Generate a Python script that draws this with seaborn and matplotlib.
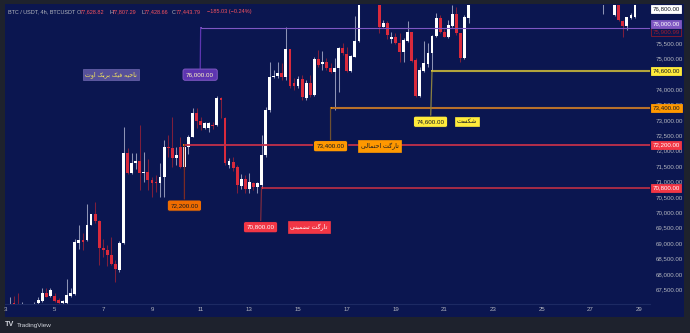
import matplotlib
matplotlib.use("Agg")
import matplotlib.pyplot as plt
import matplotlib.transforms as mtransforms
from matplotlib.patches import Rectangle
import pandas as pd
import seaborn as sns

# 4h candles, index 0 = day 3 00:00 (6 candles per day); hidden candles (above/below the view) left out
candle_idx = [1, 2, 3, 4] + list(range(7, 88)) + list(range(92, 115)) + [147] + list(range(150, 156))

opens = [66800, 67050, 67000, 66950,
         66950, 67040, 67130, 67390, 67280, 67280, 67150, 67040, 67040, 67280,
         67340, 69010, 69100, 69100, 69590, 69950, 69720, 68840, 68760, 68610,
         68320, 68130, 68990, 71920, 71270, 71610, 71680, 71290, 71300, 71050,
         71000, 70940, 71140, 72130, 72080, 71780, 72130, 71460, 72130, 72460,
         73240, 72980, 72730, 72730, 72850, 72840, 73700, 73060, 71540, 71650,
         71460, 70860, 71080, 70750, 70960, 70810, 70890, 71860, 73330, 74390,
         74430, 74540, 74390, 75300, 74210, 74100, 74320, 73700, 74190, 73810,
         74970, 74820, 74900, 74680, 74570, 74680, 75330, 75150, 74600, 75060,
         75580,
         76950, 76030, 76160, 75620, 75690, 75510, 75220, 75580, 75850, 74950,
         73780, 74600, 74820, 75170, 75730, 76300, 75870, 75710, 76050, 76440,
         75820, 75000, 76300,
         76950, 76420, 76900, 76230, 76050, 76300, 76340]
highs = [67240, 67280, 67370, 67070,
         67070, 67240, 67530, 67530, 67530, 67370, 67200, 67150, 67820, 67530,
         69120, 69580, 69320, 70270, 69960, 70350, 69750, 69120, 68940, 69210,
         68450, 69080, 72760, 72080, 71940, 71940, 72850, 71960, 71720, 71140,
         71210, 71590, 72350, 72510, 73110, 72130, 72460, 72220, 72510, 73380,
         73380, 73110, 72950, 72950, 72950, 73780, 73760, 73110, 71760, 71810,
         71540, 71250, 71210, 71290, 71000, 71000, 72510, 73430, 74900, 74620,
         74900, 74840, 76030, 75300, 74350, 74430, 74460, 74300, 74460, 75040,
         75280, 75250, 75000, 74840, 75000, 75380, 75510, 75380, 75110, 76380,
         77100,
         77050, 76250, 76230, 75870, 75840, 75820, 75650, 76230, 75870, 75000,
         74730, 75580, 75490, 75760, 76470, 76410, 75950, 76250, 76740, 76680,
         75840, 76410, 77100,
         77200, 77000, 77000, 76250, 76360, 76470, 77000]
lows = [66700, 66800, 66700, 66800,
        66900, 66950, 67100, 67240, 67260, 67100, 66990, 67000, 67000, 67260,
        67310, 68800, 68780, 69080, 69580, 69640, 68290, 68560, 68260, 68290,
        67720, 68070, 68970, 71250, 71250, 71400, 70730, 71000, 70730, 70490,
        70670, 70510, 70510, 71810, 71480, 71540, 71430, 71400, 71900, 72440,
        72730, 72680, 72700, 72620, 72720, 72810, 73050, 71540, 71430, 71350,
        70620, 70750, 70620, 70620, 70730, 70620, 70800, 71810, 73270, 74350,
        74350, 74300, 74300, 74030, 73980, 74030, 73650, 73650, 73760, 73780,
        74730, 74620, 74620, 74520, 73330, 73920, 75110, 74570, 74570, 75040,
        75550,
        75820, 76010, 75620, 75490, 75470, 74900, 74900, 75550, 74900, 73740,
        73740, 74570, 74730, 74620, 75690, 75820, 75690, 75650, 76030, 75760,
        74900, 74970, 76140,
        76440, 76390, 76230, 75710, 75920, 76270, 76300]
closes = [67000, 66900, 66850, 67000,
          67000, 67150, 67370, 67260, 67480, 67130, 67040, 67120, 67310, 67370,
          69030, 69100, 69050, 69590, 69950, 69720, 68830, 68760, 68610, 68320,
          68150, 68990, 71920, 71270, 71610, 71680, 71290, 71320, 71050, 70960,
          70960, 71140, 72130, 72080, 71780, 71860, 71460, 72130, 72460, 73240,
          72980, 72840, 72890, 72910, 72820, 73700, 73660, 71590, 71680, 71430,
          70890, 71080, 70750, 71000, 70810, 70940, 71860, 73330, 74410, 74430,
          74540, 74390, 75300, 74100, 74100, 74320, 73740, 74210, 73810, 74970,
          74790, 74900, 74680, 74570, 74680, 75330, 75170, 74600, 75080, 75580,
          76950,
          76030, 76160, 75760, 75710, 75490, 75220, 75600, 75850, 74930, 73780,
          74620, 74840, 75190, 75730, 76300, 75870, 75710, 76090, 76440, 75820,
          75000, 76360, 76950,
          77050, 76900, 76250, 76050, 76340, 76410, 76900]

# drawn levels: price, anchor candle, label text
level_prices = [76000, 74600, 73400, 72200, 70800]
level_anchor = [48, 105, 80, 44, 63]
level_notes = ["ناحیه فیک بریک اوت", "شکست", "تارگت احتمالی", None, "تارگت تضمینی"]

# right price-scale badges
badge_prices = [76800, 75900.99, 76000, 74600, 73400, 72200, 70800]

y_ticks = [67500, 68000, 68500, 69000, 69500, 70000, 70500, 71000, 71500,
           72000, 72500, 73000, 73500, 74000, 75000, 75500]
day_ticks = list(range(3, 30, 2))

title_parts = [("BTC / USDT, 4h, BTCUSDT", 8), ("O", 77), ("77,628.82", 80), ("H", 109),
               ("77,807.29", 112), ("L", 141), ("77,428.66", 144), ("C", 172),
               ("77,443.79", 176), ("\u2212185.03 (\u22120.24%)", 207)]

# ---------- style ----------
NAVY = "#0b1650"
FRAME = "#1e222d"
AXIS_TXT = "#b2b5be"
BULL, BULL_WICK = "#ffffff", "#8d93b5"
BEAR, BEAR_WICK = "#d92a3c", "#7e1e3c"

sns.set_theme(style="dark")
plt.rcParams["font.family"] = ["Liberation Sans", "DejaVu Sans"]

# Persian letters -> presentation forms (isolated, final, initial, medial), then visual order
FORMS = {
    "\u0627": ("\uFE8D", "\uFE8E", None, None),
    "\u0628": ("\uFE8F", "\uFE90", "\uFE91", "\uFE92"),
    "\u062A": ("\uFE95", "\uFE96", "\uFE97", "\uFE98"),
    "\u062D": ("\uFEA1", "\uFEA2", "\uFEA3", "\uFEA4"),
    "\u0631": ("\uFEAD", "\uFEAE", None, None),
    "\u0633": ("\uFEB1", "\uFEB2", "\uFEB3", "\uFEB4"),
    "\u0634": ("\uFEB5", "\uFEB6", "\uFEB7", "\uFEB8"),
    "\u0636": ("\uFEBD", "\uFEBE", "\uFEBF", "\uFEC0"),
    "\u0641": ("\uFED1", "\uFED2", "\uFED3", "\uFED4"),
    "\u06A9": ("\uFB8E", "\uFB8F", "\uFB90", "\uFB91"),
    "\u06AF": ("\uFB92", "\uFB93", "\uFB94", "\uFB95"),
    "\u0644": ("\uFEDD", "\uFEDE", "\uFEDF", "\uFEE0"),
    "\u0645": ("\uFEE1", "\uFEE2", "\uFEE3", "\uFEE4"),
    "\u0646": ("\uFEE5", "\uFEE6", "\uFEE7", "\uFEE8"),
    "\u0648": ("\uFEED", "\uFEEE", None, None),
    "\u0647": ("\uFEE9", "\uFEEA", "\uFEEB", "\uFEEC"),
    "\u06CC": ("\uFBFC", "\uFBFD", "\uFBFE", "\uFBFF"),
}


def shape_fa(s):
    s = s.replace("\u0643", "\u06A9").replace("\u064A", "\u06CC")
    out = []
    for k, ch in enumerate(s):
        if ch not in FORMS:
            out.append(ch)
            continue
        prev = s[k - 1] if k > 0 else ""
        nxt = s[k + 1] if k + 1 < len(s) else ""
        join_prev = prev in FORMS and FORMS[prev][2] is not None
        join_next = nxt in FORMS and FORMS[ch][2] is not None
        iso, fin, ini, med = FORMS[ch]
        if join_prev and join_next:
            out.append(med)
        elif join_prev:
            out.append(fin)
        elif join_next:
            out.append(ini)
        else:
            out.append(iso)
    return "".join(reversed(out))


W, H = 690, 333
fig = plt.figure(figsize=(W / 100, H / 100), dpi=100, facecolor=FRAME)
fig.add_artist(Rectangle((5 / W, 1 - 317 / H), 679 / W, 313 / H, transform=fig.transFigure,
                         facecolor=NAVY, edgecolor="none", zorder=-5))
ax = fig.add_axes([5 / W, 29 / H, 645 / W, 299 / H])
ax.set_facecolor(NAVY)
XMAX = 158.7
ax.set_xlim(-0.2, XMAX)
ax.set_ylim(67020, 76737)
ax.grid(False)

# ---------- candles ----------
df = pd.DataFrame({"idx": candle_idx, "open": opens, "high": highs, "low": lows, "close": closes})
df["up"] = df["close"] >= df["open"]
for up, body_c, wick_c in [(True, BULL, BULL_WICK), (False, BEAR, BEAR_WICK)]:
    d = df[df["up"] == up]
    ax.vlines(d["idx"], d["low"], d["high"], color=wick_c, lw=0.75, zorder=2)
    h = (d["close"] - d["open"]).abs().clip(lower=30)
    ax.bar(d["idx"], h, bottom=d[["open", "close"]].min(axis=1), width=0.7,
           color=body_c, linewidth=0, zorder=3)

# ---------- drawn levels ----------
line_colors = ["#7e57c2", "#b3a43c", "#b8702a", "#c2304a", "#b22d45"]
line_widths = [0.8, 1.5, 1.5, 1.3, 1.3]
stem_colors = ["#5e35b1", "#8a8040", "#6e5030", "#7a2a25", "#7a2a40"]
dot_colors = ["#7e57c2", "#ffeb3b", "#ff9800", "#ff9800", "#f23645"]
label_fc = ["#5e35b1", "#ffeb3b", "#ff9800", "#ef6c00", "#f23645"]
label_ec = ["#7e57c2", "#0b1650", "#0b1650", "#0b1650", "#0b1650"]
label_tc = ["#fff9c4", "#131722", "#131722", "#131722", "#ffffff"]
label_drop = [47, 51, 38.5, 61, 39.5]
label_dx = [-0.5, -1.5, 0, 0, -1]
note_dx = [-89, 36.5, 49, 0, 48.5]
note_fc = ["#56509a", "#ffeb3b", "#ff9800", None, "#f23645"]
note_tc = ["#ffee58", "#131722", "#131722", None, "#ffffff"]

for k, (p, a) in enumerate(zip(level_prices, level_anchor)):
    ax.plot([a, XMAX], [p, p], color=line_colors[k], lw=line_widths[k], zorder=4,
            solid_capstyle="butt")
    ax.annotate(f"{p:,.2f}", xy=(a, p), xytext=(label_dx[k], -label_drop[k]),
                textcoords="offset pixels", ha="center", va="center", fontsize=4.5,
                color=label_tc[k], zorder=7,
                bbox=dict(boxstyle="round,pad=0.5,rounding_size=0.35", fc=label_fc[k],
                          ec=label_ec[k], lw=0.7),
                arrowprops=dict(arrowstyle="-", color=stem_colors[k], lw=0.9,
                                shrinkA=0, shrinkB=0))
    ax.plot(a, p, marker="s", ms=1.8, color=dot_colors[k], mew=0, zorder=6)
    if level_notes[k]:
        ax.annotate(shape_fa(level_notes[k]), xy=(a, p),
                    xytext=(label_dx[k] + note_dx[k], -label_drop[k]),
                    textcoords="offset pixels", ha="center", va="center", fontsize=4.5,
                    color=note_tc[k], zorder=7,
                    bbox=dict(boxstyle="square,pad=0.35", fc=note_fc[k],
                              ec="#6e68b0" if k == 0 else note_fc[k], lw=0.5))

# ---------- axes ----------
for side in ["top", "left", "right"]:
    ax.spines[side].set_visible(False)
ax.spines["bottom"].set_color("#1d2a63")
ax.spines["bottom"].set_linewidth(0.8)

ax.yaxis.tick_right()
ax.set_yticks(y_ticks)
ax.set_yticklabels([f"{v:,.2f}" for v in y_ticks])
ax.tick_params(axis="y", length=0, pad=4.3, labelsize=4.4, labelcolor=AXIS_TXT)
ax.set_xticks([(d - 3) * 6 for d in day_ticks])
ax.set_xticklabels([str(d) for d in day_ticks])
ax.tick_params(axis="x", length=0, pad=2.5, labelsize=4.4, labelcolor=AXIS_TXT)
ax.set_xlabel("")
ax.set_ylabel("")

# price-scale badges
blend = mtransforms.blended_transform_factory(ax.transAxes, ax.transData)
badge_fc = ["#ffffff", NAVY, "#7e57c2", "#ffeb3b", "#ff9800", "#f23645", "#f23645"]
badge_ec = ["#ffffff", "#8b1a2b", "#7e57c2", "#ffeb3b", "#ff9800", "#f23645", "#f23645"]
badge_tc = ["#131722", "#9c1c30", "#ffffff", "#131722", "#131722", "#ffffff", "#ffffff"]
ytop = ax.get_ylim()[1]
for k, p in enumerate(badge_prices):
    if p > ytop:
        ypos, va, off = ytop, "top", -1.5
    elif k == 2:
        ypos, va, off = p, "bottom", 1.5
    else:
        ypos, va, off = p, "center", -1 if k == 1 else 0
    ax.annotate(f"{p:,.2f}", xy=(1, ypos), xycoords=blend, xytext=(2.5, off),
                textcoords="offset pixels", ha="left", va=va, fontsize=4.4,
                color=badge_tc[k], annotation_clip=False, zorder=8,
                bbox=dict(boxstyle="square,pad=0.25", fc=badge_fc[k], ec=badge_ec[k], lw=0.6))

# ---------- header and footer ----------
for k, (txt, xp) in enumerate(title_parts):
    col = AXIS_TXT if (k == 0 or len(txt) == 1) else "#f7525f"
    fig.text(xp / W, 1 - 12 / H, txt, fontsize=4.0, color=col, ha="left", va="center")

fig.text(5 / W, 1 - 325 / H, "TV", fontsize=5.2, fontweight="bold", color="#d1d4dc",
         ha="left", va="center")
fig.text(17 / W, 1 - 325 / H, "TradingView", fontsize=4.6, color="#d1d4dc",
         ha="left", va="center")

fig.savefig("out.png", dpi=100, facecolor=FRAME)
